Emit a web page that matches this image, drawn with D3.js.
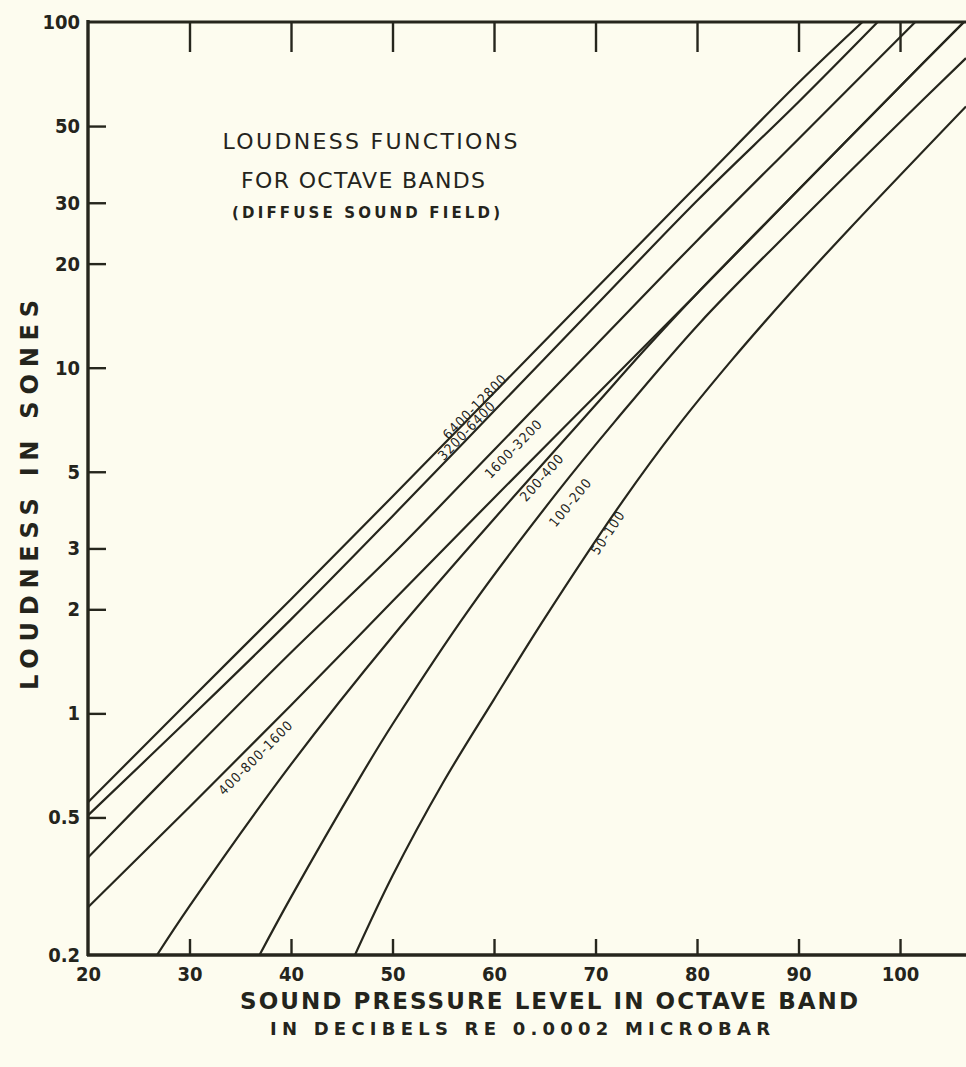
<!DOCTYPE html>
<html><head><meta charset="utf-8">
<script src="https://cdn.jsdelivr.net/npm/d3@7/dist/d3.min.js"></script>
<style>
html,body{margin:0;padding:0;background:#fdfcef;}
svg{display:block;}
text{font-family:"DejaVu Sans",sans-serif;fill:#24241c;}
</style></head><body>
<svg id="chart" width="966" height="1067"></svg>
<script>
// ---- data (sound pressure level dB, loudness sones) ----
const yTicks = [100, 50, 30, 20, 10, 5, 3, 2, 1, 0.5, 0.2];
const yTickLabels = ["100", "50", "30", "20", "10", "5", "3", "2", "1", "0.5", "0.2"];
const xTicks = [20, 30, 40, 50, 60, 70, 80, 90, 100];
const topTicks = [30, 40, 50, 60, 70, 80, 90, 100];

const band6400_12800 = [[20,0.553],[30,1.09],[40,2.14],[50,4.24],[60,8.46],[70,16.9],[80,33.6],[90,66.7],[96.3,100]];
const band3200_6400  = [[20,0.507],[30,0.968],[40,1.87],[50,3.72],[60,7.49],[70,15.1],[80,30.4],[90,58.7],[97.8,100]];
const band1600_3200  = [[20,0.383],[30,0.763],[40,1.50],[50,2.88],[60,5.78],[70,11.6],[80,23.3],[90,45.9],[100,90.3],[101.5,100]];
const band400_1600   = [[20,0.275],[30,0.536],[40,1.055],[50,2.11],[60,4.20],[70,8.30],[80,16.4],[90,32.7],[100,65.1],[106.3,100]];
const band200_400    = [[26.8,0.2],[30,0.277],[40,0.712],[50,1.669],[60,3.65],[70,7.8],[75,11.4],[80,16.4],[90,32.7],[100,65.1],[106.3,100]];
const band100_200    = [[36.9,0.2],[40,0.294],[46.8,0.653],[50,0.93],[57.6,2.01],[66.2,4.35],[72,7.04],[80.3,13.5],[90,26.3],[100,51.3],[106.5,78.6]];
const band50_100     = [[46.3,0.2],[50,0.339],[55,0.632],[60,1.098],[65,1.886],[72.7,4.12],[78,6.71],[83.4,10.5],[89,16.2],[95,25.2],[106.5,57]];

const curveNames  = ["6400-12800", "3200-6400", "1600-3200", "400-800-1600", "200-400", "100-200", "50-100"];
const curveSeries = [band6400_12800, band3200_6400, band1600_3200, band400_1600, band200_400, band100_200, band50_100];
// label anchor (dB, sones) for each curve name
const labelLevels = [58.1, 57.3, 61.9, 36.5, 64.7, 67.5, 71.2];
const labelSones  = [7.73, 6.59, 5.84, 0.746, 4.82, 4.08, 3.34];

const titleLines = ["LOUDNESS FUNCTIONS", "FOR OCTAVE BANDS", "(DIFFUSE SOUND FIELD)"];
const yTitle = "LOUDNESS IN SONES";
const xTitle = "SOUND PRESSURE LEVEL IN OCTAVE BAND";
const xSubtitle = "IN DECIBELS RE 0.0002 MICROBAR";

// ---- drawing ----
const ink = "#26261d";
const cond = "'DejaVu Sans Condensed','DejaVu Sans',sans-serif";
const svg = d3.select("#chart");
const x = d3.scaleLinear().domain([20, 106.5]).range([88, 966]);
const y = d3.scaleLog().domain([0.2, 100]).range([955, 22]);

svg.append("rect").attr("width", 966).attr("height", 1067).attr("fill", "#fdfcef");

svg.append("defs").append("clipPath").attr("id", "plot")
  .append("rect").attr("x", x(20)).attr("y", y(100))
  .attr("width", x(106.5) - x(20)).attr("height", y(0.2) - y(100));

// axes
const gBottom = svg.append("g").attr("transform", `translate(0,${y(0.2)})`)
  .call(d3.axisBottom(x).tickValues(xTicks).tickSizeInner(-16).tickSizeOuter(0).tickPadding(12).tickFormat(d3.format("d")));
const gLeft = svg.append("g").attr("transform", `translate(${x(20)},0)`)
  .call(d3.axisLeft(y).tickValues(yTicks).tickSizeInner(-18).tickSizeOuter(0).tickPadding(8)
    .tickFormat((d) => yTickLabels[yTicks.indexOf(d)]));
const gTop = svg.append("g").attr("transform", `translate(0,${y(100)})`)
  .call(d3.axisTop(x).tickValues(topTicks).tickSizeInner(-30).tickSizeOuter(0).tickFormat(""));

[gBottom, gLeft, gTop].forEach(g => {
  g.select(".domain").remove();
  g.selectAll(".tick line").attr("stroke", ink).attr("stroke-width", 2.4);
  g.selectAll(".tick text").attr("fill", ink).style("font-size", "20px").style("font-weight", "bold")
    .style("font-family", cond);
});
gLeft.selectAll(".tick").filter(d => d === 100 || d === 0.2).select("line").remove();
gBottom.selectAll(".tick").filter(d => d === 20).select("line").remove();

// frame
svg.append("line").attr("x1", x(20)).attr("x2", x(20)).attr("y1", y(100) - 2).attr("y2", y(0.2) + 1)
  .attr("stroke", ink).attr("stroke-width", 3.4);
svg.append("line").attr("x1", x(20) - 1).attr("x2", x(106.5)).attr("y1", y(0.2)).attr("y2", y(0.2))
  .attr("stroke", ink).attr("stroke-width", 3.4);
svg.append("line").attr("x1", x(20) - 1).attr("x2", x(106.5)).attr("y1", y(100)).attr("y2", y(100))
  .attr("stroke", ink).attr("stroke-width", 3);

// curves
const line = d3.line().x(d => x(d[0])).y(d => y(d[1])).curve(d3.curveCatmullRom.alpha(0.5));
const cg = svg.append("g").attr("clip-path", "url(#plot)");
curveSeries.forEach((pts) => {
  cg.append("path").datum(pts).attr("d", line).attr("fill", "none")
    .attr("stroke", ink).attr("stroke-width", 2.2).attr("stroke-linejoin", "round");
});

// curve labels, rotated along the local slope of their curve
function slopeAngle(pts, db) {
  let k = pts.findIndex(p => p[0] >= db);
  if (k <= 0) k = 1;
  const a = pts[k - 1], b = pts[k];
  return Math.atan2(y(b[1]) - y(a[1]), x(b[0]) - x(a[0])) * 180 / Math.PI;
}
curveNames.forEach((name, i) => {
  const px = x(labelLevels[i]), py = y(labelSones[i]);
  const ang = slopeAngle(curveSeries[i], labelLevels[i]);
  svg.append("text").attr("transform", `translate(${px},${py}) rotate(${ang})`)
    .attr("text-anchor", "middle").attr("dominant-baseline", "central")
    .style("font-size", "13.5px").style("letter-spacing", "1.1px")
    .style("font-family", cond)
    .text(name);
});

// title block
const tSpecs = [[370, 141, 22, 295, "normal"], [363, 180, 22, 244, "normal"], [366, 213, 15, 268, "bold"]];
titleLines.forEach((t, i) => {
  const s = tSpecs[i];
  svg.append("text").attr("x", s[0]).attr("y", s[1]).attr("text-anchor", "middle")
    .attr("dominant-baseline", "central").style("font-size", s[2] + "px").style("font-weight", s[4])
    .attr("textLength", s[3]).attr("lengthAdjust", "spacing").text(t);
});

// axis titles
svg.append("text").attr("transform", "translate(30,495) rotate(-90)").attr("text-anchor", "middle")
  .attr("dominant-baseline", "central").style("font-size", "24px").style("font-weight", "bold")
  .attr("textLength", 390).attr("lengthAdjust", "spacing").text(yTitle);
svg.append("text").attr("x", 549).attr("y", 1001).attr("text-anchor", "middle")
  .attr("dominant-baseline", "central").style("font-size", "23px").style("font-weight", "bold")
  .attr("textLength", 618).attr("lengthAdjust", "spacing").text(xTitle);
svg.append("text").attr("x", 520).attr("y", 1028).attr("text-anchor", "middle")
  .attr("dominant-baseline", "central").style("font-size", "18px").style("font-weight", "bold")
  .attr("textLength", 500).attr("lengthAdjust", "spacing").text(xSubtitle);
</script>
</body></html>
